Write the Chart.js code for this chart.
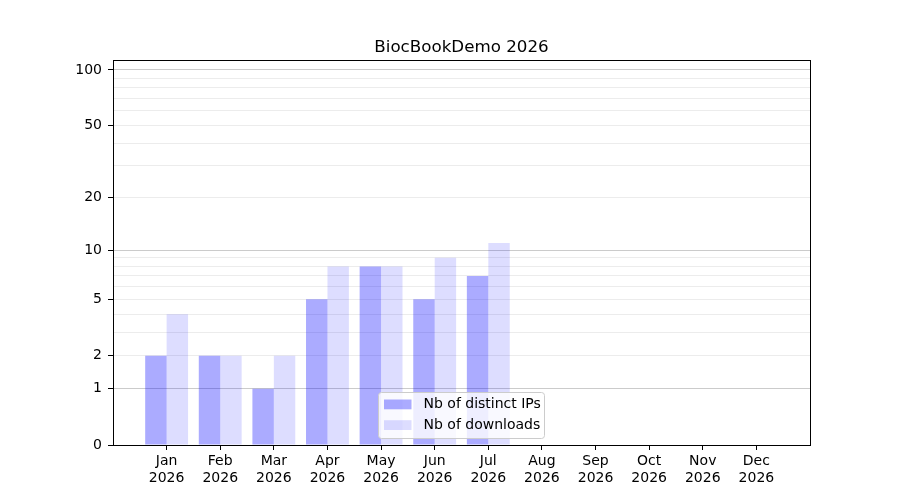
<!DOCTYPE html>
<html>
<head>
<meta charset="utf-8">
<title>BiocBookDemo 2026</title>
<script src="https://cdn.jsdelivr.net/npm/chart.js@4.4.1/dist/chart.umd.min.js"></script>
<style>
  html, body { margin: 0; padding: 0; background: #fff; }
  #wrap { width: 900px; height: 500px; }
</style>
</head>
<body>
<div id="wrap"><canvas id="myChart" width="900" height="500"></canvas></div>
<script>
/*==================DATA=================*/
const months = ['Jan', 'Feb', 'Mar', 'Apr', 'May', 'Jun', 'Jul', 'Aug', 'Sep', 'Oct', 'Nov', 'Dec'];
const year = '2026';
const distinctIPs = [2, 2, 1, 5, 8, 5, 7, 0, 0, 0, 0, 0];
const downloads = [4, 2, 2, 8, 8, 9, 11, 0, 0, 0, 0, 0];
const yGridValues = [0, 1, 2, 3, 4, 5, 6, 7, 8, 9, 10, 20, 30, 40, 50, 60, 70, 80, 90, 100];
const yLabelValues = [0, 1, 2, 5, 10, 20, 50, 100];
const yMajorValues = [1, 10, 100];
const yMax = 113;

/*==================LOG(1+x) SCALE=================*/
class Log1pScale extends Chart.Scale {
  static id = 'log1p';
  static defaults = {};

  determineDataLimits() {
    this.min = this.options.min ?? 0;
    this.max = this.options.max ?? 100;
  }
  buildTicks() {
    return yGridValues.map(v => ({ value: v }));
  }
  configure() {
    super.configure();
    this._start = Math.log10(1 + this.min);
    this._range = Math.log10(1 + this.max) - this._start;
  }
  getLabelForValue(v) {
    return String(v);
  }
  getPixelForValue(v) {
    if (v === null || v === undefined || isNaN(v)) return NaN;
    return this.getPixelForDecimal((Math.log10(1 + v) - this._start) / this._range);
  }
  getValueForPixel(p) {
    return Math.pow(10, this._start + this.getDecimalForPixel(p) * this._range) - 1;
  }
}
Chart.register(Log1pScale);

/*==================FRAME + LEGEND=================*/
const frameAndLegend = {
  id: 'frameAndLegend',
  afterDatasetsDraw(chart) {
    const { ctx, chartArea: a } = chart;
    ctx.save();
    ctx.strokeStyle = '#000';
    ctx.lineWidth = 1;
    ctx.strokeRect(Math.round(a.left) + 0.5, Math.round(a.top) + 0.5,
      Math.round(a.right - a.left), Math.round(a.bottom - a.top));

    // legend box, lower centre of the axes
    const bx = a.left + 265.5, by = a.bottom - 52.5, bw = 166, bh = 46;
    ctx.beginPath();
    ctx.roundRect(bx, by, bw, bh, 3);
    ctx.fillStyle = 'rgba(255,255,255,0.8)';
    ctx.fill();
    ctx.strokeStyle = '#cccccc';
    ctx.stroke();

    ctx.font = '14px "DejaVu Sans"';
    ctx.textBaseline = 'middle';
    ctx.textAlign = 'left';
    chart.data.datasets.forEach((ds, i) => {
      const cy = by + 12 + i * 20.7;
      ctx.fillStyle = ds.backgroundColor;
      ctx.fillRect(bx + 5.5, cy - 5, 27.5, 9.8);
      ctx.fillStyle = '#000';
      ctx.fillText(ds.label, bx + 45, cy);
    });
    ctx.restore();
  }
};

/*==================CHART JS=================*/
Chart.defaults.font.family = '"DejaVu Sans", sans-serif';
Chart.defaults.font.size = 14;
Chart.defaults.color = '#000';

const ctx = document.getElementById('myChart');

new Chart(ctx, {
  type: 'bar',
  data: {
    datasets: [{
      label: 'Nb of distinct IPs',
      data: distinctIPs.map((v, i) => ({ x: i, y: v })),
      backgroundColor: 'rgba(0,0,255,0.33)',
      borderWidth: 0
    }, {
      label: 'Nb of downloads',
      data: downloads.map((v, i) => ({ x: i, y: v })),
      backgroundColor: 'rgba(0,0,255,0.135)',
      borderWidth: 0
    }]
  },
  options: {
    responsive: false,
    animation: false,
    events: [],
    layout: { padding: { left: 23, right: 0, top: 0, bottom: 0 } },
    datasets: { bar: { categoryPercentage: 0.8, barPercentage: 1.0 } },
    plugins: {
      legend: { display: false },
      tooltip: { enabled: false },
      title: {
        display: true,
        text: 'BiocBookDemo ' + year,
        font: { size: 16.7, weight: 'normal' },
        color: '#000',
        padding: { top: 37.5, bottom: 2.5 }
      }
    },
    scales: {
      x: {
        type: 'linear',
        min: -1,
        max: 12,
        offset: false,
        grid: {
          offset: false,
          drawOnChartArea: false,
          tickLength: 5,
          tickColor: c => (c.tick && c.tick.value >= 0 && c.tick.value <= 11) ? '#000' : 'rgba(0,0,0,0)'
        },
        border: { color: '#000' },
        ticks: {
          stepSize: 1,
          autoSkip: false,
          maxRotation: 0,
          padding: 3,
          callback: v => (v >= 0 && v <= 11) ? [months[v], year] : ''
        },
        afterFit: s => { s.height = 55; }
      },
      y: {
        type: 'log1p',
        min: 0,
        max: yMax,
        stacked: false,
        grid: {
          color: c => {
            const v = c.tick ? c.tick.value : 0;
            if (v === 0) return 'rgba(0,0,0,0)';
            return yMajorValues.includes(v) ? '#cbcbcb' : '#ececec';
          },
          tickLength: 5,
          tickColor: c => (c.tick && yLabelValues.includes(c.tick.value)) ? '#000' : 'rgba(0,0,0,0)'
        },
        border: { color: '#000' },
        ticks: {
          autoSkip: false,
          padding: 6,
          callback: v => yLabelValues.includes(v) ? String(v) : ''
        },
        afterFit: s => { s.width = 90; }
      },
      y2: {
        type: 'linear',
        position: 'right',
        grid: { display: false },
        border: { display: false },
        ticks: { display: false },
        afterFit: s => { s.width = 90; }
      }
    }
  },
  plugins: [frameAndLegend]
});
</script>
</body>
</html>
